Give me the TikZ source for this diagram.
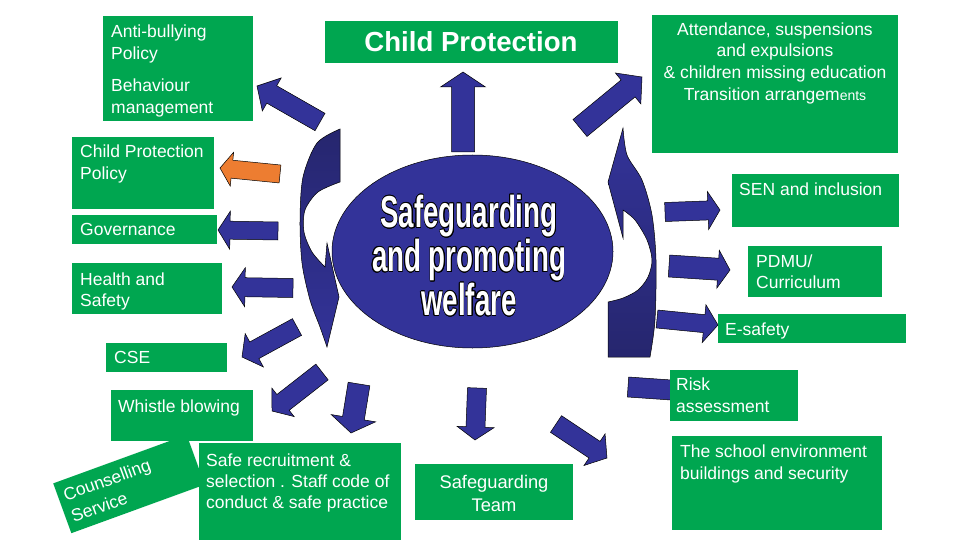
\documentclass[tikz,border=0pt]{standalone}
\usepackage{fontspec}
\setmainfont{Liberation Sans}
\usepackage{contour}
\contourlength{0.7pt}
\usetikzlibrary{calc,shapes.geometric}
\definecolor{gr}{HTML}{00A650}
\definecolor{ab}{HTML}{333399}
\definecolor{abd}{HTML}{26266E}
\definecolor{org}{HTML}{ED7D31}
\tikzset{
  gbox/.style={fill=gr, draw=none, inner sep=0pt, anchor=north west},
  txt/.style={text=white, inner sep=0pt, font=\fontsize{17.5}{22}\selectfont, align=left},
  arrowfill/.style={fill=ab, draw=black, line width=0.5pt, line join=miter},
  cresc/.style={draw=black, line width=0.5pt},
}
\newcommand{\blockarr}[6][]{%
  \coordinate (bbase) at ($#3!#6!#2$);
  \draw[arrowfill,#1] ($#2!#4!90:#3$) -- ($(bbase)!#4!90:#3$) -- ($(bbase)!#5!90:#3$) -- #3
    -- ($(bbase)!#5!-90:#3$) -- ($(bbase)!#4!-90:#3$) -- ($#2!#4!-90:#3$) -- cycle;}
\begin{document}
\begin{tikzpicture}[x=1pt,y=-1pt]
\useasboundingbox (0,0) rectangle (960,540);
\fill[white] (0,0) rectangle (960,540);

% crescents
\shadedraw[cresc, top color=abd, bottom color=ab]
  (340,129) -- plot[smooth] coordinates {(340,129) (317,143) (303,177) (300,220) (302,263) (310,300) (320,327) (327,347)}
  -- (339,297) -- (327,243) -- (325,267)
  -- plot[smooth] coordinates {(325,267) (312,252) (304,232) (305,210) (318,192) (340,182)} -- cycle;
\shadedraw[cresc, top color=ab, bottom color=abd]
  (623,128) -- plot[smooth] coordinates {(623,128) (627,155) (642,180) (652,215) (656,260) (655,320) (650,357)}
  -- (608,357) -- (608,302)
  -- plot[smooth] coordinates {(608,302) (623,298) (638,290) (648,277) (652,260) (647,240) (635,220) (623,210)}
  -- (623,238) -- (608,182) -- cycle;

% centre
\node[ellipse, fill=ab, draw=black, line width=0.5pt, minimum width=281pt, minimum height=193pt, inner sep=0pt] (core) at (472.5,251.5) {};
\node[text=white, inner sep=0pt, align=center, anchor=north, font=\fontsize{44.7}{44}\selectfont\bfseries] (coretxt) at (469,195)
  {\scalebox{0.62}[1]{\contour{black}{Safeguarding}}\\
   \scalebox{0.62}[1]{\contour{black}{and promoting}}\\
   \scalebox{0.62}[1]{\contour{black}{welfare}}};

% arrow coordinates
\coordinate (a1t) at (320,122); \coordinate (a1h) at (257,86);
\coordinate (a2t) at (280,174); \coordinate (a2h) at (220,168);
\coordinate (a3t) at (278,231); \coordinate (a3h) at (218,230);
\coordinate (a4t) at (293,288); \coordinate (a4h) at (232,287);
\coordinate (a5t) at (297,327); \coordinate (a5h) at (242,357);
\coordinate (a6t) at (322,372); \coordinate (a6h) at (272,411);
\coordinate (a7t) at (359,384); \coordinate (a7h) at (351,433);
\coordinate (a8t) at (477,388); \coordinate (a8h) at (475,440);
\coordinate (a9t) at (556,424); \coordinate (a9h) at (607,458);
\coordinate (a10t) at (628,387); \coordinate (a10h) at (700,392);
\coordinate (a11t) at (657,319); \coordinate (a11h) at (718,325);
\coordinate (a12t) at (669,266); \coordinate (a12h) at (730,270);
\coordinate (a13t) at (665,212); \coordinate (a13h) at (720,210);
\coordinate (a14t) at (580,128); \coordinate (a14h) at (642,77);
\coordinate (a15t) at (463,152); \coordinate (a15h) at (463,72);

\blockarr{(a1t)}{(a1h)}{10pt}{19pt}{17pt}
\blockarr[fill=org]{(a2t)}{(a2h)}{9pt}{17pt}{12pt}
\blockarr{(a3t)}{(a3h)}{9pt}{19pt}{12pt}
\blockarr{(a4t)}{(a4h)}{9.5pt}{19.5pt}{13pt}
\blockarr{(a5t)}{(a5h)}{9.5pt}{19pt}{14pt}
\blockarr{(a6t)}{(a6h)}{10pt}{18pt}{14pt}
\blockarr{(a7t)}{(a7h)}{11pt}{22.5pt}{15pt}
\blockarr{(a8t)}{(a8h)}{9.5pt}{18.5pt}{13pt}
\blockarr{(a9t)}{(a9h)}{10pt}{19pt}{15pt}
\blockarr{(a10t)}{(a10h)}{10pt}{19pt}{14pt}
\blockarr{(a11t)}{(a11h)}{9pt}{19pt}{14pt}
\blockarr{(a12t)}{(a12h)}{11pt}{19pt}{12pt}
\blockarr{(a13t)}{(a13h)}{9.5pt}{19pt}{12pt}
\blockarr{(a14t)}{(a14h)}{11pt}{20pt}{18pt}
\blockarr{(a15t)}{(a15h)}{11.5pt}{22.5pt}{15pt}

% counselling (rotated)
\node[fill=gr, rotate=20, minimum width=142pt, minimum height=53pt, inner sep=0pt, text=white,
  font=\fontsize{17.5}{23}\selectfont, align=left, text width=130pt] (cs) at (129,484) {Counselling\\Service};

% boxes
\node[gbox, minimum width=150pt, minimum height=105pt] (ab) at (103,16) {};
\node[gbox, minimum width=293pt, minimum height=42pt] (cp) at (325,21) {};
\node[gbox, minimum width=246pt, minimum height=138pt] (att) at (652,15) {};
\node[gbox, minimum width=142pt, minimum height=72pt] (cpp) at (72,137) {};
\node[gbox, minimum width=145pt, minimum height=29pt] (gov) at (72,215) {};
\node[gbox, minimum width=150pt, minimum height=51pt] (hs) at (72,263) {};
\node[gbox, minimum width=121pt, minimum height=29pt] (cse) at (106,343) {};
\node[gbox, minimum width=142pt, minimum height=51pt] (wb) at (111,390) {};
\node[gbox, minimum width=202pt, minimum height=97pt] (sr) at (199,443) {};
\node[gbox, minimum width=158pt, minimum height=56pt] (sgt) at (415,464) {};
\node[gbox, minimum width=128pt, minimum height=51pt] (risk) at (670,370) {};
\node[gbox, minimum width=210pt, minimum height=94pt] (sch) at (672,436) {};
\node[gbox, minimum width=188pt, minimum height=29pt] (es) at (718,314) {};
\node[gbox, minimum width=134pt, minimum height=51pt] (pdmu) at (748,246) {};
\node[gbox, minimum width=167pt, minimum height=53pt] (sen) at (732,174) {};

% texts
\node[txt, anchor=north west] (abt) at (111,24.4) {Anti-bullying\\Policy};
\node[txt, anchor=north west] (beht) at (111,78.4) {Behaviour\\management};
\node[text=white, inner sep=0pt, anchor=base, font=\fontsize{27.6}{30}\selectfont\bfseries] (cpt) at (471,52) {Child Protection};
\node[txt, align=center, anchor=north, font=\fontsize{17.5}{21.7}\selectfont] (attt) at (775,22.4)
  {Attendance, suspensions\\and expulsions\\\& children missing education\\Transition arrangem{\fontsize{14}{20}\selectfont ents}};
\node[txt, anchor=north west, font=\fontsize{17.5}{22.5}\selectfont] (cppt) at (80,144.4) {Child Protection\\Policy};
\node[txt, anchor=base west] (govt) at (80,235) {Governance};
\node[txt, anchor=north west, font=\fontsize{17.5}{21.5}\selectfont] (hst) at (80,272.4) {Health and\\Safety};
\node[txt, anchor=base west] (cset) at (114,363) {CSE};
\node[txt, anchor=base west] (wbt) at (118,412) {Whistle blowing};
\node[txt, anchor=north west, font=\fontsize{17.5}{21}\selectfont] (srt) at (206,453.4) {Safe recruitment \&\\selection . Staff code of\\conduct \& safe practice};
\node[txt, align=center, anchor=north, font=\fontsize{18.3}{23}\selectfont] (sgtt) at (494,475) {Safeguarding\\Team};
\node[txt, anchor=north west] (riskt) at (676,377.4) {Risk\\assessment};
\node[txt, anchor=north west] (scht) at (680,444.4) {The school environment\\buildings and security};
\node[txt, anchor=base west] (est) at (725,335) {E-safety};
\node[txt, anchor=north west, font=\fontsize{17.5}{21}\selectfont] (pdmut) at (756,254.4) {PDMU/\\Curriculum};
\node[txt, anchor=base west] (sent) at (739,196) {SEN and inclusion};
\end{tikzpicture}
\end{document}
